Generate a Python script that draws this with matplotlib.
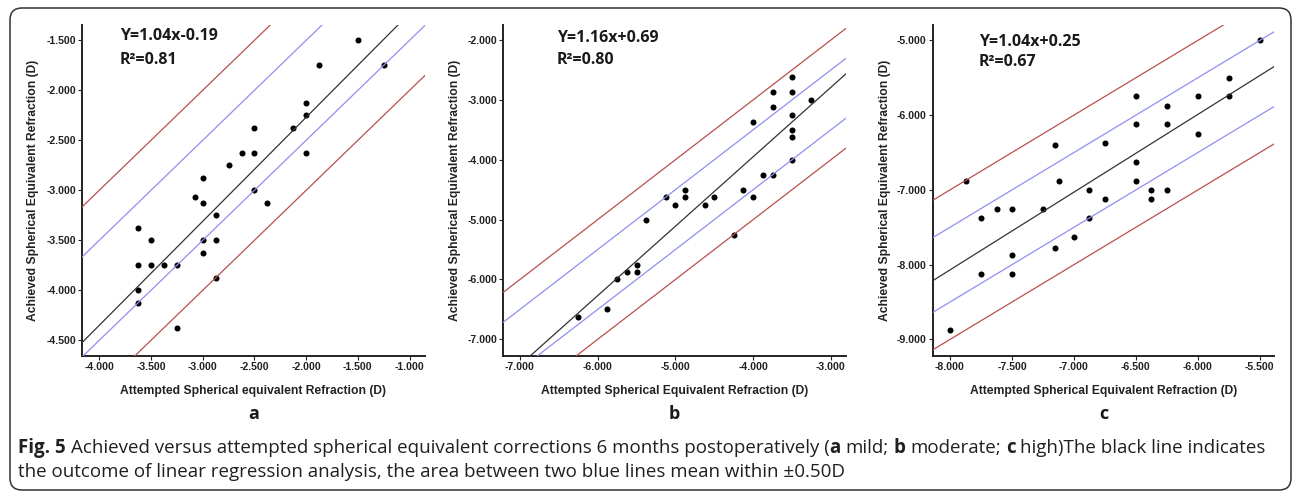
import matplotlib
matplotlib.use('Agg')
import matplotlib.pyplot as plt
from matplotlib import font_manager as fm
from matplotlib.patches import FancyBboxPatch

# ---------------- data ----------------
a_attempted = [-1.5, -1.25, -1.875, -2.0, -2.0, -2.125, -2.5, -2.625, -2.5, -2.0,
               -2.75, -3.0, -2.5, -3.07, -3.0, -2.875, -2.375, -3.625, -3.5, -3.0,
               -2.875, -3.0, -3.625, -3.5, -3.375, -3.25, -2.875, -3.625, -3.625, -3.25]
a_achieved = [-1.5, -1.75, -1.75, -2.125, -2.25, -2.375, -2.375, -2.625, -2.625, -2.625,
              -2.75, -2.875, -3.0, -3.07, -3.125, -3.25, -3.125, -3.375, -3.5, -3.5,
              -3.5, -3.625, -3.75, -3.75, -3.75, -3.75, -3.875, -4.0, -4.125, -4.375]

b_attempted = [-3.5, -3.75, -3.5, -3.25, -3.75, -3.5, -4.0, -3.5, -3.5, -3.5,
               -3.875, -3.75, -4.125, -4.875, -5.125, -4.875, -4.5, -4.0, -5.0, -4.625,
               -5.375, -4.25, -5.5, -5.625, -5.5, -5.75, -5.875, -6.25]
b_achieved = [-2.625, -2.875, -2.875, -3.0, -3.125, -3.25, -3.375, -3.5, -3.625, -4.0,
              -4.25, -4.25, -4.5, -4.5, -4.625, -4.625, -4.625, -4.625, -4.75, -4.75,
              -5.0, -5.25, -5.75, -5.875, -5.875, -6.0, -6.5, -6.625]

c_attempted = [-5.5, -5.75, -5.75, -6.0, -6.5, -6.25, -6.5, -6.25, -6.0, -6.75,
               -7.15, -6.5, -7.875, -7.125, -6.5, -6.875, -6.375, -6.25, -6.75, -6.375,
               -7.625, -7.5, -7.25, -7.75, -6.875, -7.0, -7.15, -7.5, -7.75, -7.5, -8.0]
c_achieved = [-5.0, -5.5, -5.75, -5.75, -5.75, -5.875, -6.125, -6.125, -6.25, -6.375,
              -6.4, -6.625, -6.875, -6.875, -6.875, -7.0, -7.0, -7.0, -7.125, -7.125,
              -7.25, -7.25, -7.25, -7.375, -7.375, -7.625, -7.78, -7.875, -8.125, -8.125, -8.875]

slopes = [1.04, 1.16, 1.04]
intercepts = [-0.19, 0.69, 0.25]
r_squared = ['0.81', '0.80', '0.67']
equations = ['Y=1.04x-0.19', 'Y=1.16x+0.69', 'Y=1.04x+0.25']
panel_letters = ['a', 'b', 'c']
x_titles = ['Attempted Spherical equivalent Refraction (D)',
            'Attempted Spherical Equivalent Refraction (D)',
            'Attempted Spherical Equivalent Refraction (D)']
y_title = 'Achieved Spherical Equivalent Refraction (D)'
a_xticks = [-4.0, -3.5, -3.0, -2.5, -2.0, -1.5, -1.0]
a_yticks = [-4.5, -4.0, -3.5, -3.0, -2.5, -2.0, -1.5]
b_xticks = [-7.0, -6.0, -5.0, -4.0, -3.0]
b_yticks = [-7.0, -6.0, -5.0, -4.0, -3.0, -2.0]
c_xticks = [-8.0, -7.5, -7.0, -6.5, -6.0, -5.5]
c_yticks = [-9.0, -8.0, -7.0, -6.0, -5.0]
band_inner = 0.5   # blue lines: y = x +/- 0.50 D
band_outer = 1.0   # red lines:  y = x +/- 1.00 D
caption_line1 = [("Fig. 5", 'bold', True),
                 ("Achieved versus attempted spherical equivalent corrections 6 months postoperatively (", 'normal', False),
                 ("a", 'bold', True), ("mild;", 'normal', True),
                 ("b", 'bold', True), ("moderate;", 'normal', True),
                 ("c", 'bold', True), ("high)The black line indicates", 'normal', False)]
caption_line2 = [("the outcome of linear regression analysis, the area between two blue lines mean within \u00b10.50D", 'normal', False)]

# ---------------- style ----------------
names = {f.name for f in fm.fontManager.ttflist}
def pick(cands):
    for c in cands:
        if c in names:
            return c
    return 'DejaVu Sans'
TICK_FONT = pick(['Liberation Sans', 'Arial'])
EQ_FONT = pick(['Open Sans', 'Lato'])
CAP_FONT = pick(['Noto Sans Condensed', 'Open Sans', 'Noto Sans'])

plt.rcParams['axes.unicode_minus'] = False
plt.rcParams['font.family'] = [TICK_FONT, 'DejaVu Sans']

W, H = 1292, 492
fig = plt.figure(figsize=(W / 100, H / 100), dpi=100)
fig.patch.set_facecolor('white')

def fx(px):
    return px / W
def fy(py):
    return 1 - py / H

RED = '#b9504e'
BLUE = '#8f8ff2'
BLK = '#333333'

panels = [
    dict(xs=a_attempted, ys=a_achieved, rect=(82, 25, 425, 356),
         xlim=(-4.167, -0.851), ylim=(-4.657, -1.347), xt=a_xticks, yt=a_yticks,
         eq_xy=(120, 36), r2_xy=(120, 60), ytitle_x=33),
    dict(xs=b_attempted, ys=b_achieved, rect=(503.3, 25, 845.7, 355.7),
         xlim=(-7.214, -2.81), ylim=(-7.273, -1.75), xt=b_xticks, yt=b_yticks,
         eq_xy=(556.7, 37.7), r2_xy=(556.7, 60), ytitle_x=455),
    dict(xs=c_attempted, ys=c_achieved, rect=(932.7, 25, 1274.3, 355.7),
         xlim=(-8.14, -5.384), ylim=(-9.218, -4.795), xt=c_xticks, yt=c_yticks,
         eq_xy=(979, 41.7), r2_xy=(979, 62), ytitle_x=885),
]

for i, p in enumerate(panels):
    l, t, r, b = p['rect']
    ax = fig.add_axes([fx(l), fy(b), (r - l) / W, (b - t) / H])
    ax.set_facecolor('none')
    ax.scatter(p['xs'], p['ys'], s=19, color='black', linewidths=0, zorder=2)
    ax.axline((0, band_outer), slope=1, color=RED, lw=0.9, zorder=3)
    ax.axline((0, -band_outer), slope=1, color=RED, lw=0.9, zorder=3)
    ax.axline((0, band_inner), slope=1, color=BLUE, lw=0.9, zorder=3)
    ax.axline((0, -band_inner), slope=1, color=BLUE, lw=0.9, zorder=3)
    ax.axline((0, intercepts[i]), slope=slopes[i], color=BLK, lw=0.9, zorder=3)
    ax.set_xlim(*p['xlim'])
    ax.set_ylim(*p['ylim'])
    ax.set_xticks(p['xt'])
    ax.set_yticks(p['yt'])
    ax.set_xticklabels(['%.3f' % v for v in p['xt']])
    ax.set_yticklabels(['%.3f' % v for v in p['yt']])
    for s in ['top', 'right']:
        ax.spines[s].set_visible(False)
    for s in ['left', 'bottom']:
        ax.spines[s].set_linewidth(1.4)
        ax.spines[s].set_color('#222222')
    ax.tick_params(direction='out', length=3, width=0.8, color='#222222',
                   labelsize=7.6, labelcolor='#222222', pad=1.2)
    for lab in ax.get_xticklabels() + ax.get_yticklabels():
        lab.set_fontweight('bold')
        lab.set_family(TICK_FONT)

    # equation
    ex, ey = p['eq_xy']
    fig.text(fx(ex), fy(ey), equations[i], fontsize=11.5, fontweight='bold',
             family=EQ_FONT, ha='left', va='center', color='#1a1a1a')
    rx, ry = p['r2_xy']
    fig.text(fx(rx), fy(ry), 'R\u00b2=' + r_squared[i], fontsize=11.5, fontweight='bold',
             family=EQ_FONT, ha='left', va='center', color='#1a1a1a')
    # axis titles
    cx = (l + r) / 2
    fig.text(fx(cx), fy(394), x_titles[i], fontsize=8.7, fontweight='bold',
             family=TICK_FONT, ha='center', va='baseline', color='#222222')
    fig.text(fx(p['ytitle_x']), fy((t + b) / 2), y_title, fontsize=8.7, fontweight='bold',
             family=TICK_FONT, ha='center', va='center', rotation=90, color='#222222')
    # panel letter
    fig.text(fx(cx), fy(419), panel_letters[i], fontsize=13, fontweight='bold',
             family=EQ_FONT, ha='center', va='baseline', color='#1a1a1a')

# border box
box = FancyBboxPatch((10 / 100, (H - 490) / 100), (1291 - 10) / 100, (490 - 8) / 100,
                     boxstyle='round,pad=0,rounding_size=0.12',
                     transform=fig.dpi_scale_trans, fill=False,
                     edgecolor='#333333', linewidth=1.1)
fig.add_artist(box)

# caption (mixed weight, measured placement)
renderer = fig.canvas.get_renderer()
def width_px(txt, size, weight):
    t1 = fig.text(0, 0, '|' + txt + '|', fontsize=size, fontweight=weight, family=CAP_FONT)
    t0 = fig.text(0, 0, '||', fontsize=size, fontweight=weight, family=CAP_FONT)
    w = t1.get_window_extent(renderer).width - t0.get_window_extent(renderer).width
    t1.remove(); t0.remove()
    return w

def line_width(segs, size):
    sp = width_px(' ', size, 'normal')
    tot = 0
    for txt, wt, gap in segs:
        tot += width_px(txt, size, wt) + (sp if gap else 0)
    return tot

base = 10
target = 1266 - 18
cap_size = base * target / line_width(caption_line1, base)

def draw_line(segs, x0, ybase, size):
    sp = width_px(' ', size, 'normal')
    x = x0
    for txt, wt, gap in segs:
        fig.text(fx(x), fy(ybase), txt, fontsize=size, fontweight=wt, family=CAP_FONT,
                 ha='left', va='baseline', color='#231f20')
        x += width_px(txt, size, wt) + (sp if gap else 0)

draw_line(caption_line1, 18, 453, cap_size)
draw_line(caption_line2, 18, 477, cap_size)

fig.savefig('out.png', dpi=100, facecolor='white')
